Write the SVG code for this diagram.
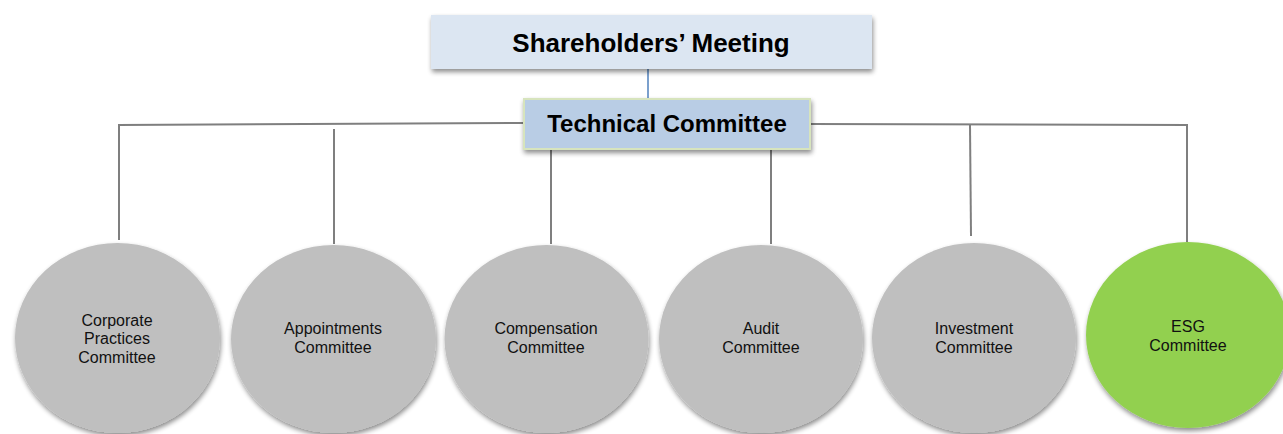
<svg xmlns="http://www.w3.org/2000/svg" width="1283" height="434" viewBox="0 0 1283 434">
  <defs>
    <filter id="shadow" x="-20%" y="-20%" width="140%" height="150%">
      <feGaussianBlur in="SourceAlpha" stdDeviation="2.5"/>
      <feOffset dx="1" dy="3" result="off"/>
      <feComponentTransfer><feFuncA type="linear" slope="0.45"/></feComponentTransfer>
      <feMerge><feMergeNode/><feMergeNode in="SourceGraphic"/></feMerge>
    </filter>
    <style>
      .conn { stroke: #7f7f7f; stroke-width: 2; fill: none; }
      .top { stroke: #4f81bd; stroke-width: 1.5; fill: none; }
      .title { font-family: "Liberation Sans", Arial, sans-serif; font-weight: bold; fill: #000; text-anchor: middle; }
      .label { font-family: "Liberation Sans", Arial, sans-serif; font-size: 16px; fill: #111; text-anchor: middle; }
      .gray { fill: #bfbfbf; }
      .green { fill: #92d050; }
    </style>
  </defs>
  <rect width="1283" height="434" fill="#ffffff"/>

  <!-- connectors -->
  <g id="connectors">
    <line class="top" x1="648" y1="69" x2="648" y2="99"/>
    <polyline class="conn" points="119,240 119,125 524,123"/>
    <line class="conn" x1="334" y1="129" x2="334" y2="244"/>
    <line class="conn" x1="551" y1="149" x2="551" y2="244"/>
    <line class="conn" x1="771" y1="149" x2="771" y2="244"/>
    <polyline class="conn" points="810,124 1187,125 1187,242"/>
    <line class="conn" x1="970" y1="125" x2="971" y2="236"/>
  </g>

  <!-- top level -->
  <g id="shareholders-meeting">
    <rect x="431" y="15" width="441" height="54" fill="#dce6f2" filter="url(#shadow)"/>
    <text class="title" x="651" y="52" font-size="26">Shareholders’ Meeting</text>
  </g>

  <g id="technical-committee">
    <rect x="524" y="99" width="286" height="50" fill="#b9cde5" stroke="#d7e4bd" stroke-width="2" filter="url(#shadow)"/>
    <text class="title" x="667" y="132" font-size="24">Technical Committee</text>
  </g>

  <!-- committees -->
  <g id="corporate-practices-committee">
    <ellipse class="gray" cx="117.5" cy="338" rx="102.5" ry="95" filter="url(#shadow)"/>
    <text class="label" x="117" y="326">Corporate</text>
    <text class="label" x="117" y="344">Practices</text>
    <text class="label" x="117" y="363">Committee</text>
  </g>

  <g id="appointments-committee">
    <ellipse class="gray" cx="333.5" cy="339" rx="102.5" ry="94" filter="url(#shadow)"/>
    <text class="label" x="333" y="334">Appointments</text>
    <text class="label" x="333" y="353">Committee</text>
  </g>

  <g id="compensation-committee">
    <ellipse class="gray" cx="546.5" cy="339" rx="102" ry="94" filter="url(#shadow)"/>
    <text class="label" x="546" y="334">Compensation</text>
    <text class="label" x="546" y="353">Committee</text>
  </g>

  <g id="audit-committee">
    <ellipse class="gray" cx="761" cy="339" rx="102" ry="94" filter="url(#shadow)"/>
    <text class="label" x="761" y="334">Audit</text>
    <text class="label" x="761" y="353">Committee</text>
  </g>

  <g id="investment-committee">
    <ellipse class="gray" cx="974" cy="338" rx="102" ry="95" filter="url(#shadow)"/>
    <text class="label" x="974" y="334">Investment</text>
    <text class="label" x="974" y="353">Committee</text>
  </g>

  <g id="esg-committee">
    <ellipse class="green" cx="1188" cy="335" rx="102" ry="93" filter="url(#shadow)"/>
    <text class="label" x="1188" y="332">ESG</text>
    <text class="label" x="1188" y="351">Committee</text>
  </g>
</svg>
